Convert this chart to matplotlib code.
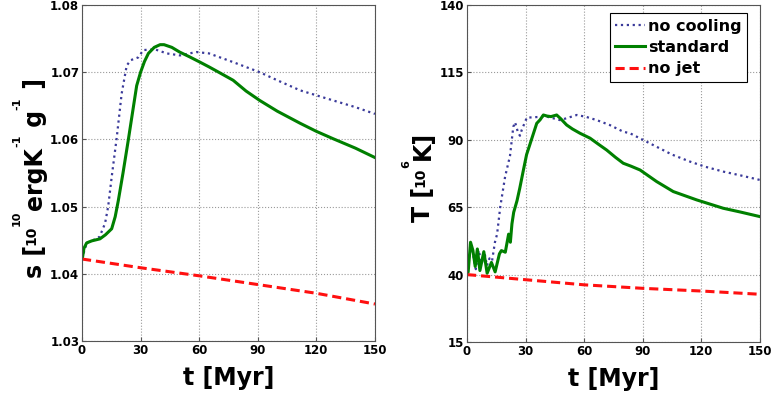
import matplotlib
matplotlib.use("Agg")
import matplotlib.pyplot as plt

plt.rcParams["font.family"] = "DejaVu Sans"
plt.rcParams["font.weight"] = "bold"

# specific entropy, 10^10 erg K^-1 g^-1
t_s_std = [0, 0.3, 1, 2.4, 5, 9.2, 12, 15.2, 17, 18.6, 21, 23.7, 26.3, 28, 30, 32, 34,
           37, 40, 42, 46, 50, 55, 60.4, 65, 70, 77.4, 84, 91, 100, 111.7, 120, 128.6,
           140, 150]
s_std = [1.0422, 1.0425, 1.0438, 1.0446, 1.0449, 1.0452, 1.0458, 1.0467, 1.0485, 1.0509,
         1.0550, 1.0599, 1.0648, 1.0680, 1.0700, 1.0716, 1.0728, 1.0737, 1.0741, 1.0741,
         1.0737, 1.0730, 1.0723, 1.0715, 1.0708, 1.0700, 1.0688, 1.0672, 1.0658, 1.0642,
         1.0624, 1.0612, 1.0601, 1.0587, 1.0573]
t_s_nocool = [0, 2.4, 5, 9, 11.8, 13.4, 15.2, 17.8, 20.3, 22.9, 25, 28.8, 31.4, 37.4, 43.4,
              50.2, 55, 58.7, 65, 77.4, 91, 100, 111.7, 128.6, 140, 150]
s_nocool = [1.0422, 1.0446, 1.0449, 1.0455, 1.0475, 1.0500, 1.0544, 1.0603, 1.0668, 1.0710,
            1.0718, 1.0722, 1.0733, 1.0734, 1.0728, 1.0725, 1.0728, 1.0730, 1.0728, 1.0715,
            1.0700, 1.0688, 1.0673, 1.0658, 1.0648, 1.0638]
t_s_nojet = [0, 30, 60, 90, 120, 150]
s_nojet = [1.0422, 1.0409, 1.0397, 1.0384, 1.0371, 1.0355]

# temperature, 10^6 K
t_T_std = [0, 0.6, 1.8, 3.0, 4.2, 5.3, 6.6, 8.6, 10.3, 12.5, 14.4, 16.6, 17.6, 19.6, 21.3,
           22.2, 23.0, 23.9, 25.6, 27.0, 28.8, 30.5, 32.3, 35.7, 37.4, 39.1, 41.0, 43.0,
           45.9, 48.0, 51.0, 54.0, 57.9, 63.0, 67.0, 71.5, 76.0, 80.0, 84.0, 88.6, 97.1,
           105.6, 117.6, 131.2, 140.0, 150.0]
T_std = [40, 41, 52, 49, 43, 49.5, 41.5, 48.5, 40.5, 44.5, 41, 47.7, 48.9, 48.3, 55, 52,
         58.8, 63.1, 67.4, 72, 78.5, 84.5, 88.5, 96.1, 97.4, 99.2, 98.8, 98.6, 99.2, 97.8,
         95.5, 94, 92.4, 90.6, 88.5, 86.2, 83.5, 81.3, 80.2, 78.8, 74.5, 70.8, 67.7, 64.6,
         63.2, 61.5]
t_T_nocool = [0, 1, 2, 3.5, 4.5, 6, 7.5, 9, 10.2, 11.5, 12.8, 14.3, 15.4, 17, 19.5, 22,
              23.7, 24.6, 26, 27.1, 28, 30.6, 35, 40.8, 44, 47.6, 51, 56.2, 61, 66.4, 73,
              80, 83.5, 90, 97.1, 105, 114.2, 122, 131.2, 140, 150]
T_nocool = [40, 46, 51, 46, 42, 49, 44, 48, 43.3, 46, 45, 52, 55, 65, 76.3, 84, 94.8, 96.5,
            93, 91.5, 93.6, 98.2, 98.4, 98.6, 98, 97.3, 98, 99.2, 98.5, 97.3, 95.5, 93,
            92.4, 90, 87.4, 84.5, 81.9, 80, 78.2, 76.8, 75.1]
t_T_nojet = [0, 30, 60, 90, 120, 150]
T_nojet = [40, 38.1, 36.2, 34.9, 33.9, 32.7]

x_ticks = [0, 30, 60, 90, 120, 150]
s_ticks = [1.03, 1.04, 1.05, 1.06, 1.07, 1.08]
T_ticks = [15, 40, 65, 90, 115, 140]

# y labels as (text, fontsize, lift in px) pieces; small "10" and raised exponents
s_label = [("s [", 17, 0), ("10", 10, 7), ("10", 8, 22), ("ergK", 17, 0), ("-1", 8, 22),
           (" g", 17, 0), ("-1", 8, 22), (" ]", 17, 0)]
T_label = [("T [", 17, 0), ("10", 10, 6), ("6", 8, 21), ("K]", 17, 0)]

BLUE = "#3a3a9a"
GREEN = "#008000"
RED = "#ff1010"

W, H = 775, 399
fig = plt.figure(figsize=(W / 100, H / 100), dpi=100)
ax1 = fig.add_axes([0.1058, 0.1454, 0.378, 0.842])
ax2 = fig.add_axes([0.6026, 0.1429, 0.378, 0.8446])


def stacked_ylabel(x_px, y_px, pieces):
    """Rotated label built from pieces running bottom to top; x_px is the baseline."""
    r = fig.canvas.get_renderer()
    y = y_px
    for text, size, lift in pieces:
        t = fig.text((x_px - lift) / W, y / H, text, fontsize=size, fontweight="bold",
                     rotation=90, rotation_mode="anchor", ha="left", va="baseline")
        y += t.get_window_extent(r).height


for ax, tn, yn, ts, ys, tj, yj, yt in [
        (ax1, t_s_nocool, s_nocool, t_s_std, s_std, t_s_nojet, s_nojet, s_ticks),
        (ax2, t_T_nocool, T_nocool, t_T_std, T_std, t_T_nojet, T_nojet, T_ticks)]:
    ax.plot(tn, yn, color=BLUE, ls=":", lw=1.6, label="no cooling")
    ax.plot(ts, ys, color=GREEN, ls="-", lw=2.2, label="standard")
    ax.plot(tj, yj, color=RED, ls="--", lw=2.2, dashes=(3, 1.6), label="no jet")
    ax.set_xlim(0, 150)
    ax.set_ylim(yt[0], yt[-1])
    ax.set_xticks(x_ticks)
    ax.set_yticks(yt)
    ax.grid(True, ls=":", color="#9a9a9a", lw=0.8)
    ax.tick_params(direction="in", length=3, color="#555555", labelsize=8.5, pad=2)
    for sp in ax.spines.values():
        sp.set_color("#555555")
    ax.set_xlabel("t [Myr]", fontsize=17, fontweight="bold")
    ax.xaxis.set_label_coords(0.5, -0.075)

ax1.set_yticklabels([f"{v:.2f}" for v in s_ticks])

stacked_ylabel(42, H - 278, s_label)
stacked_ylabel(430, H - 222, T_label)

leg = ax2.legend(loc="upper right", bbox_to_anchor=(0.956, 0.976), borderaxespad=0,
                 fontsize=11.5, handlelength=1.9, handletextpad=0.15, borderpad=0.35,
                 labelspacing=0.4, fancybox=False, framealpha=1)
leg.get_frame().set_edgecolor("black")
leg.get_frame().set_linewidth(0.8)
for txt in leg.get_texts():
    txt.set_fontweight("bold")

fig.savefig("out.png", dpi=100)
